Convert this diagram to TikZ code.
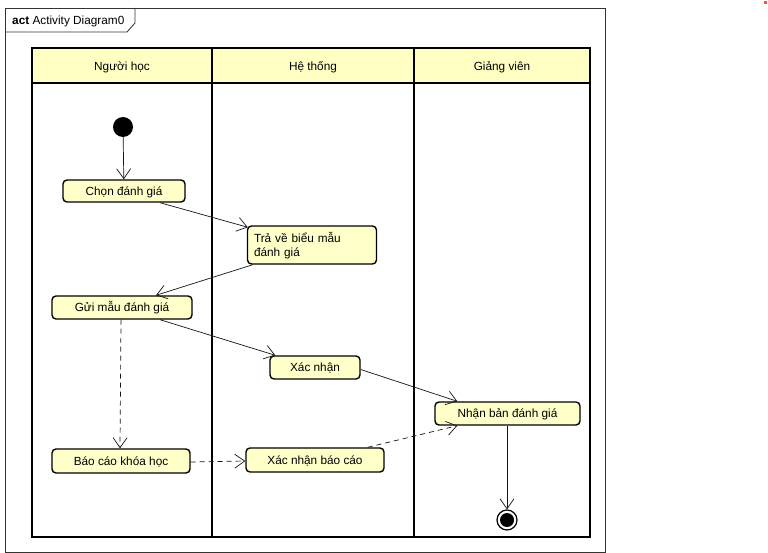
\documentclass[tikz,border=0pt]{standalone}
\usepackage{fontspec}
\setmainfont{Liberation Sans}
\usetikzlibrary{arrows.meta}
\definecolor{actfill}{RGB}{255,255,202}
\definecolor{lanefill}{RGB}{255,255,196}
\definecolor{edgecol}{RGB}{20,20,20}
\begin{document}
\begin{tikzpicture}[x=1pt,y=-1pt,
  every node/.style={font=\fontsize{11.8}{14}\selectfont, inner sep=0pt},
  action/.style={draw=black, line width=1.4pt, fill=actfill, rounded corners=4pt, align=center,
    text height=10.5pt, text depth=2pt},
  lanehead/.style={draw=black, line width=1.8pt, fill=lanefill},
  lanebody/.style={draw=black, line width=1.8pt},
  flow/.style={draw=edgecol, line width=0.7pt, -{Straight Barb[length=10pt,width=14pt,line width=0.7pt]}},
  dflow/.style={flow, dash pattern=on 5pt off 4pt}
]
\useasboundingbox (0,0) rectangle (768,553);
\fill[white] (0,0) rectangle (768,553);

% frame with title tab
\draw[line width=0.8pt, black!80] (5,8) rectangle (605,552);
\draw[line width=0.8pt, black!80] (5,32) -- (127,32) -- (135,23) -- (135,8);
\node[anchor=west] (title) at (12,21) {\textbf{act} Activity Diagram0};
\fill[red!70] (764,1) rectangle (767,4);

% swimlanes
\draw[lanehead] (32,48) rectangle (212,83);
\draw[lanehead] (212,48) rectangle (414,83);
\draw[lanehead] (414,48) rectangle (590,83);
\draw[lanebody] (32,83) rectangle (212,537);
\draw[lanebody] (212,83) rectangle (414,537);
\draw[lanebody] (414,83) rectangle (590,537);
\node (l1) at (122,67) {Người học};
\node (l2) at (313,67) {Hệ thống};
\node (l3) at (502,67) {Giảng viên};

% activity nodes
\node[circle, fill=black, minimum size=20pt] (start) at (123,127) {};
\node[action, minimum width=122pt, minimum height=22pt] (chon) at (124,191) {Chọn đánh giá};
\node[action, minimum width=129pt, minimum height=38pt, align=left, text width=116pt,
  text height=10pt, text depth=14pt] (tra) at (312,245) {Trả về biểu mẫu\\đánh giá};
\node[action, minimum width=140pt, minimum height=23pt] (gui) at (122,307.5) {Gửi mẫu đánh giá};
\node[action, minimum width=90pt, minimum height=23pt] (xn) at (315,367.5) {Xác nhận};
\node[action, minimum width=145pt, minimum height=23pt] (nhan) at (507.5,413.5) {Nhận bản đánh giá};
\node[action, minimum width=138pt, minimum height=24pt] (bc) at (121,461) {Báo cáo khóa học};
\node[action, minimum width=138pt, minimum height=24pt] (xnbc) at (315,460) {Xác nhận báo cáo};
\node[circle, draw=black, line width=1.2pt, fill=white, minimum size=20pt] (final) at (507,520) {};
\node[circle, fill=black, minimum size=14pt] (finalin) at (final.center) {};

% control flows
\draw[flow] (start) -- (chon);
\draw[flow] ([xshift=36pt]chon.south) -- ([xshift=1pt,yshift=-2pt]tra.north west);
\draw[flow] ([xshift=6pt]tra.south west) -- ([xshift=34pt]gui.north);
\draw[flow] ([xshift=38pt]gui.south) -- ([xshift=6pt]xn.north west);
\draw[flow] ([yshift=-2pt]xn.east) -- ([xshift=23pt]nhan.north west);
\draw[dflow] ([xshift=-1pt]gui.south) -- ([xshift=-1pt]bc.north);
\draw[dflow] ([yshift=-1pt]bc.east) -- ([yshift=-1pt]xnbc.west);
\draw[dflow] ([xshift=-17pt]xnbc.north east) -- ([xshift=23pt]nhan.south west);
\draw[flow] ([xshift=-0.5pt]nhan.south) -- (final);
\end{tikzpicture}
\end{document}
